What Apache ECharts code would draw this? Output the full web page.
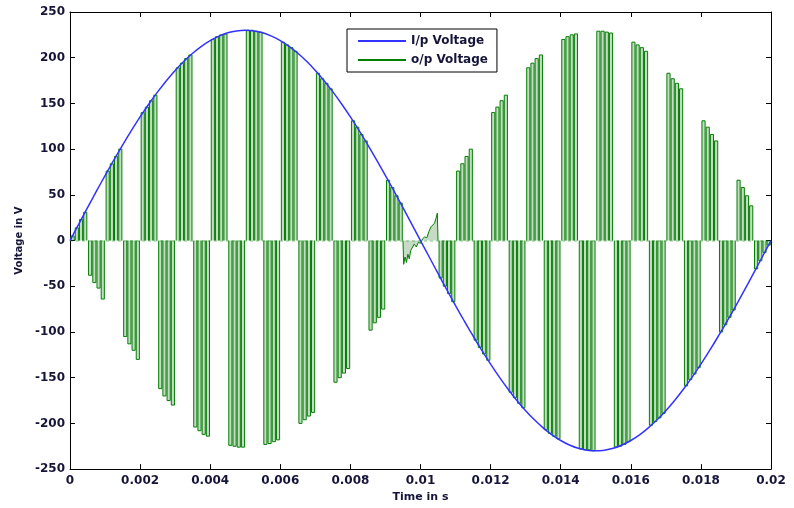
<!DOCTYPE html>
<html>
<head>
<meta charset="utf-8">
<script src="https://cdn.jsdelivr.net/npm/echarts@6/dist/echarts.min.js"></script>
<style>
html,body{margin:0;padding:0;background:#fff;}
#chart{width:794px;height:508px;}
</style>
</head>
<body>
<div id="chart"></div>
<script>
// ---- Input voltage (read every 0.25 ms), time in ms, volts ----
const VIN_T_MS = [0,0.25,0.5,0.75,1,1.25,1.5,1.75,2,2.25,2.5,2.75,3,3.25,3.5,3.75,4,4.25,4.5,4.75,5,
  5.25,5.5,5.75,6,6.25,6.5,6.75,7,7.25,7.5,7.75,8,8.25,8.5,8.75,9,9.25,9.5,9.75,10,
  10.25,10.5,10.75,11,11.25,11.5,11.75,12,12.25,12.5,12.75,13,13.25,13.5,13.75,14,14.25,14.5,14.75,15,
  15.25,15.5,15.75,16,16.25,16.5,16.75,17,17.25,17.5,17.75,18,18.25,18.5,18.75,19,19.25,19.5,19.75,20];
const VIN_V = [0,18,36,53.7,71.1,88,104.4,120.2,135.2,149.4,162.6,174.9,186.1,196.1,204.9,212.5,218.7,223.6,227.2,229.3,230,
  229.3,227.2,223.6,218.7,212.5,204.9,196.1,186.1,174.9,162.6,149.4,135.2,120.2,104.4,88,71.1,53.7,36,18,0,
  -18,-36,-53.7,-71.1,-88,-104.4,-120.2,-135.2,-149.4,-162.6,-174.9,-186.1,-196.1,-204.9,-212.5,-218.7,-223.6,-227.2,-229.3,-230,
  -229.3,-227.2,-223.6,-218.7,-212.5,-204.9,-196.1,-186.1,-174.9,-162.6,-149.4,-135.2,-120.2,-104.4,-88,-71.1,-53.7,-36,-18,0];

// ---- Output voltage: groups of pulses (group start in ms, pulse levels in V) ----
const POS_START_MS = [0,1,2,3,4,5,6,7,8,9, 11,12,13,14,15,16,17,18,19];
const POS_LEVELS = [
  [5,14,23,31],[76,84,92,100],[140,146,153,159],[189,194,199,203],[220,223,225,226],
  [230,230,229,228],[217,214,211,207],[183,177,172,166],[131,124,116,109],[66,58,49,41],
  [76,84,92,100],[140,146,153,159],[189,194,199,203],[220,223,225,226],
  [229,229,228,227],[217,214,211,207],[183,177,172,166],[131,124,116,109],[66,58,49,38]
];
const NEG_START_MS = [0.5,1.5,2.5,3.5,4.5,5.5,6.5,7.5,8.5, 10.5,11.5,12.5,13.5,14.5,15.5,16.5,17.5,18.5,19.5];
const NEG_LEVELS = [
  [-38,-46,-52,-64],[-105,-113,-120,-130],[-162,-170,-175,-180],[-204,-208,-212,-214],[-224,-225,-226,-226],
  [-223,-222,-220,-218],[-200,-196,-192,-188],[-155,-150,-145,-140],[-98,-90,-84,-75],
  [-41,-50,-58,-67],[-109,-117,-124,-131],[-166,-172,-178,-183],[-207,-211,-214,-217],[-228,-229,-229,-230],
  [-226,-225,-223,-220],[-202,-198,-194,-189],[-159,-152,-146,-139],[-100,-92,-84,-76],[-31,-22,-13,-5]
];
// pulse on/off instants inside a group (ms from group start)
const PULSE_ON_MS  = [0.03,0.15,0.27,0.39];
const PULSE_OFF_MS = [0.12,0.24,0.36,0.48];
// ripple around the zero crossing
const WIGGLE_T_MS = [9.50,9.52,9.56,9.60,9.64,9.68,9.72,9.77,9.82,9.88,9.94,10.00,10.06,10.12,10.18,10.24,10.30,10.35,10.40,10.44,10.48,10.50];
const WIGGLE_V    = [0,-26,-18,-24,-15,-20,-11,-9,-4,-7,-2,-3,2,4,3,10,15,13,19,24,30,0];

const X_TICKS = ['0','0.002','0.004','0.006','0.008','0.01','0.012','0.014','0.016','0.018','0.02'];

// ---- build series data ----
const vinData = VIN_T_MS.map((t,i)=>[t/1000, VIN_V[i]]);
const voutData = [];
function addGroups(starts, levels){
  starts.forEach((s,g)=>{
    PULSE_ON_MS.forEach((on,j)=>{
      const ts=(s+on)/1000, te=(s+PULSE_OFF_MS[j])/1000, v=levels[g][j];
      voutData.push([ts,0],[ts,v],[te,v],[te,0],[te,'-']);
    });
  });
}
addGroups(POS_START_MS, POS_LEVELS);
addGroups(NEG_START_MS, NEG_LEVELS);
WIGGLE_T_MS.forEach((t,i)=>voutData.push([t/1000, WIGGLE_V[i]]));
voutData.push([0.0105,'-']);

const FONT = 'DejaVu Sans, sans-serif';
const TXT = '#15153a';
const chart = echarts.init(document.getElementById('chart'), null, {renderer:'canvas'});
chart.setOption({
  animation:false,
  backgroundColor:'#fff',
  grid:{left:70,right:23,top:12,bottom:38,containLabel:false},
  legend:{
    orient:'vertical', left:347, top:29,
    backgroundColor:'#fff', borderColor:'#000', borderWidth:1,
    padding:[5,9,5,11], itemGap:5, itemWidth:48, itemHeight:2, icon:'rect',
    textStyle:{fontFamily:FONT, fontSize:12, fontWeight:'bold', color:TXT, width:76, lineHeight:14},
    data:['I/p Voltage','o/p Voltage']
  },
  xAxis:[{
    type:'value', min:0, max:0.02, interval:0.002, position:'bottom',
    name:'Time in s', nameLocation:'middle', nameGap:20,
    nameTextStyle:{fontFamily:FONT, fontSize:11, fontWeight:'bold', color:TXT},
    axisLine:{onZero:false, lineStyle:{color:'#000',width:1}},
    axisTick:{inside:true,length:5,lineStyle:{color:'#000'}},
    axisLabel:{fontFamily:FONT, fontSize:12, fontWeight:'bold', color:TXT, margin:6,
      formatter:(v)=>X_TICKS[Math.round(v/0.002)]},
    splitLine:{show:false}
  },{
    type:'value', min:0, max:0.02, interval:0.002, position:'top',
    axisLine:{onZero:false, lineStyle:{color:'#000',width:1}},
    axisTick:{inside:true,length:5,lineStyle:{color:'#000'}},
    axisLabel:{show:false}, splitLine:{show:false}
  }],
  yAxis:[{
    type:'value', min:-250, max:250, interval:50, position:'left',
    name:'Voltage in V', nameLocation:'middle', nameGap:45, nameRotate:90,
    nameTextStyle:{fontFamily:FONT, fontSize:10, fontWeight:'bold', color:TXT},
    axisLine:{onZero:false, lineStyle:{color:'#000',width:1}},
    axisTick:{inside:true,length:5,lineStyle:{color:'#000'}},
    axisLabel:{fontFamily:FONT, fontSize:12, fontWeight:'bold', color:TXT, margin:5},
    splitLine:{show:false}
  },{
    type:'value', min:-250, max:250, interval:50, position:'right',
    axisLine:{onZero:false, lineStyle:{color:'#000',width:1}},
    axisTick:{inside:true,length:5,lineStyle:{color:'#000'}},
    axisLabel:{show:false}, splitLine:{show:false}
  }],
  series:[{
    name:'o/p Voltage', type:'line', data:voutData, symbol:'none', connectNulls:false,
    color:'#008000',
    lineStyle:{color:'#008000', width:1},
    areaStyle:{color:'rgba(60,130,60,0.42)', origin:0},
    markLine:{silent:true, symbol:'none', label:{show:false},
      lineStyle:{color:'rgba(0,128,0,0.3)', type:[3,3], width:1.5},
      data:[{yAxis:0}]},
    z:2
  },{
    name:'I/p Voltage', type:'line', data:vinData, symbol:'none', smooth:0.3,
    color:'#3333ff',
    lineStyle:{color:'#3333ff', width:1.5},
    z:3
  }]
});
</script>
</body>
</html>
